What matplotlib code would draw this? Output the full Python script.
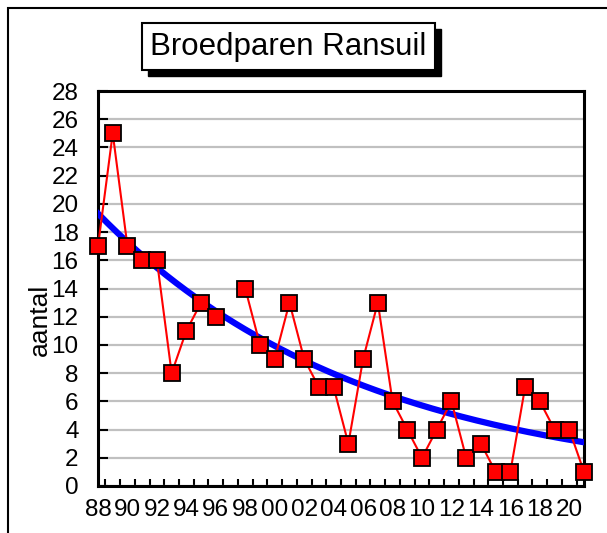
import numpy as np
import matplotlib
matplotlib.use("Agg")
import matplotlib.pyplot as plt
from matplotlib.patches import Rectangle

plt.rcParams['font.family'] = ['Liberation Sans', 'DejaVu Sans']

years = np.arange(1988, 2022)
# 1997 has no count (gap in the line)
counts = [17, 25, 17, 16, 16, 8, 11, 13, 12, np.nan, 14, 10, 9, 13, 9, 7, 7, 3,
          9, 13, 6, 4, 2, 4, 6, 2, 3, 1, 1, 7, 6, 4, 4, 1]
title = "Broedparen Ransuil"
ylabel = "aantal"

counts = np.array(counts, dtype=float)
W, H = 607, 533
fig = plt.figure(figsize=(W / 100, H / 100), dpi=100)
ax = fig.add_axes([98 / W, 1 - 486 / H, (584 - 98) / W, (486 - 91) / H])

# exponential trendline fitted on the data (weighted log fit)
ok = ~np.isnan(counts)
b, a = np.polyfit(years[ok], np.log(counts[ok]), 1, w=counts[ok] ** 0.4)
xs = np.linspace(years[0], years[-1], 200)
ax.plot(xs, np.exp(a + b * xs), color='#0000ff', lw=4.5, zorder=3)

ax.plot(years, counts, color='#ff0000', lw=1.5, marker='s', ms=12,
        mfc='#ff0000', mec='black', mew=1.3, zorder=4, clip_on=False)

ax.set_xlim(years[0], years[-1])
ax.set_ylim(0, 28)
ax.set_yticks(np.arange(0, 29, 2))
ax.yaxis.grid(True, color='#c0c0c0', lw=1.6)
ax.set_axisbelow(True)

even = years[years % 2 == 0]
ax.set_xticks(even)
ax.set_xticklabels([f"{y % 100:02d}" for y in even])
ax.set_xticks(years[:-1] + 0.5, minor=True)
ax.tick_params(axis='x', which='major', length=0, pad=9, labelsize=17.5)
ax.tick_params(axis='x', which='minor', direction='in', length=5, width=1.5)
ax.tick_params(axis='y', direction='in', length=7, width=1.5, labelsize=17.5, pad=14)
for s in ax.spines.values():
    s.set_linewidth(2.2)
    s.set_color('black')
ax.set_ylabel(ylabel, fontsize=19)
ax.yaxis.set_label_coords((52 - 98) / (584 - 98), (486 - 320) / (486 - 91))

# outer chart frame
fig.patches.append(Rectangle((8 / W, -0.1), 1.2, 1 - 8 / H + 0.1,
                             transform=fig.transFigure, fill=False,
                             ec='black', lw=1.5))
# title box with shadow
bx0, bx1, by0, by1 = 142, 435, 23, 70
fig.patches.append(Rectangle(((bx0 + 6) / W, 1 - (by1 + 6) / H), (bx1 - bx0) / W,
                             (by1 - by0) / H, transform=fig.transFigure,
                             fc='black', ec='black'))
fig.patches.append(Rectangle((bx0 / W, 1 - by1 / H), (bx1 - bx0) / W,
                             (by1 - by0) / H, transform=fig.transFigure,
                             fc='white', ec='black', lw=1.5))
fig.text((bx0 + bx1) / 2 / W, 1 - (by0 + by1) / 2 / H, title, fontsize=22.5,
         ha='center', va='center')

fig.savefig("out.png", dpi=100)
